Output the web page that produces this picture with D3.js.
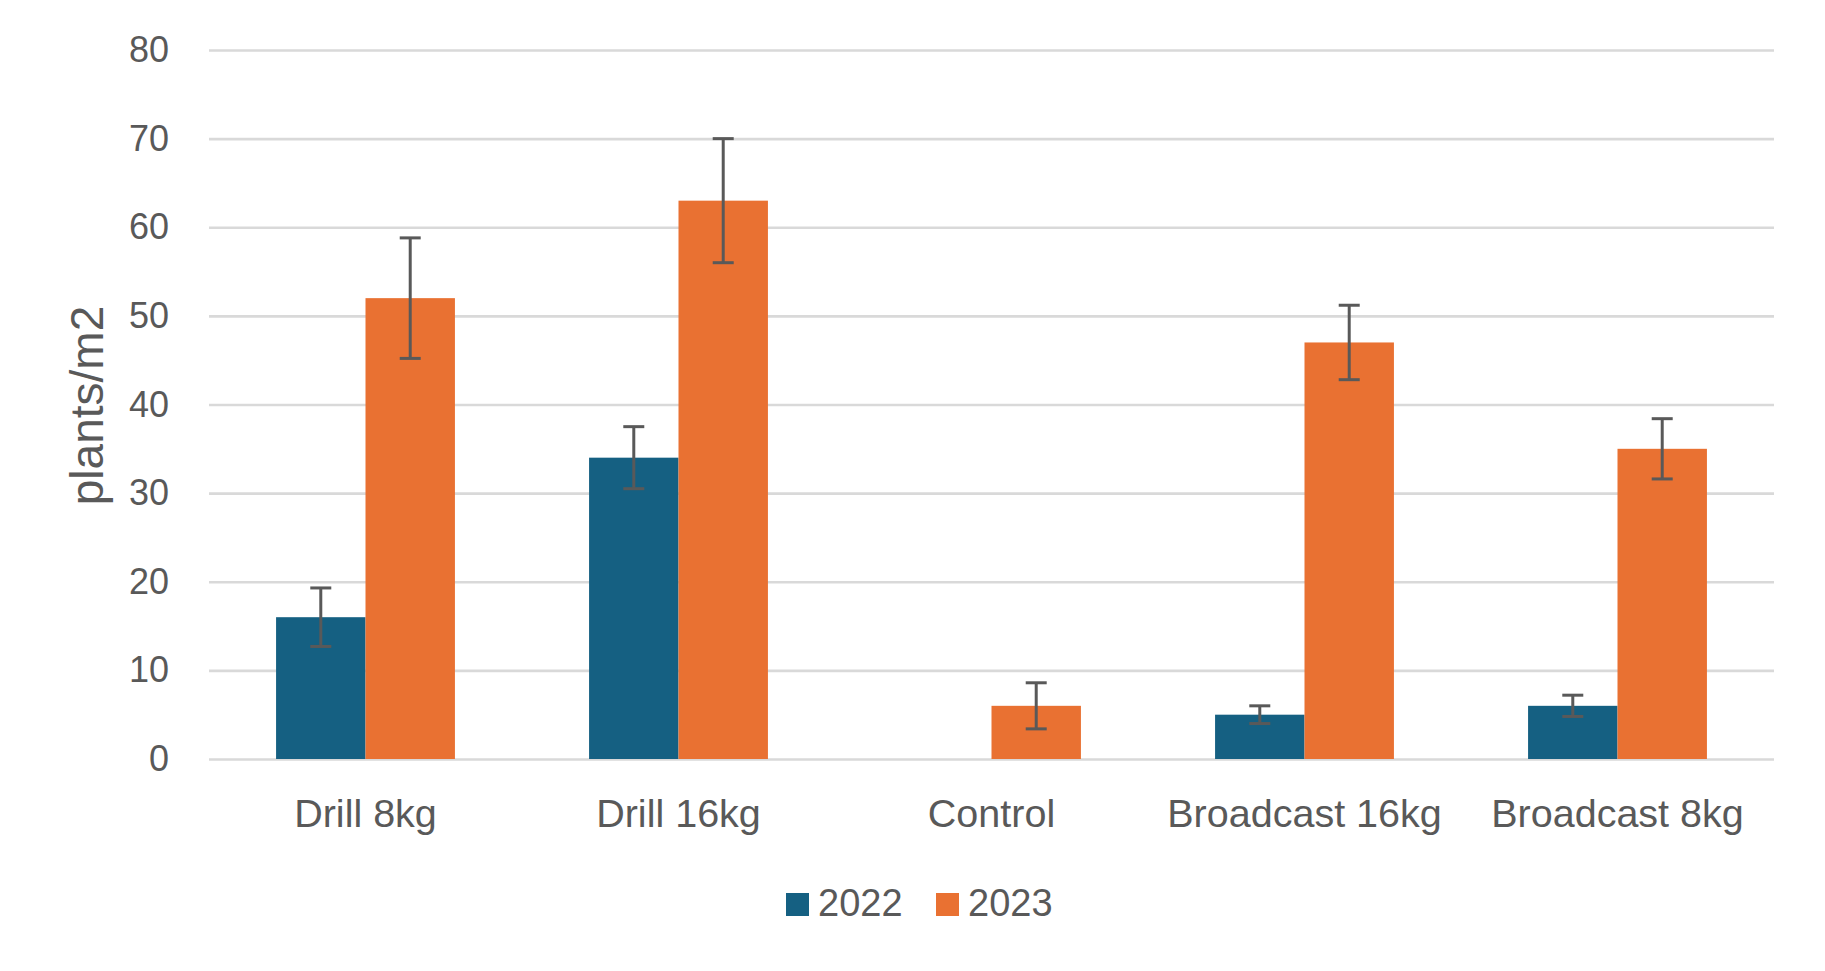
<!DOCTYPE html>
<html>
<head>
<meta charset="utf-8">
<script src="https://cdn.jsdelivr.net/npm/d3@7"></script>
<style>
  html, body { margin: 0; padding: 0; background: #fff; }
  svg { display: block; }
</style>
</head>
<body>
<svg id="chart" width="1825" height="971"></svg>
<script>
// ---- data ----
const categories = ["Drill 8kg", "Drill 16kg", "Control", "Broadcast 16kg", "Broadcast 8kg"];
const seriesNames = ["2022", "2023"];
const values2022 = [16, 34, 0, 5, 6];
const values2023 = [52, 63, 6, 47, 35];
const errors2022 = [3.3, 3.5, null, 1.0, 1.2];
const errors2023 = [6.8, 7.0, 2.6, 4.2, 3.4];
const yTicks = [0, 10, 20, 30, 40, 50, 60, 70, 80];
const colors = ["#156082", "#E97132"];
const yTitle = "plants/m2";

const series = [
  { name: seriesNames[0], values: values2022, errors: errors2022, color: colors[0] },
  { name: seriesNames[1], values: values2023, errors: errors2023, color: colors[1] }
];

const svg = d3.select("#chart");
const textColor = "#595959";
const plot = { left: 209, right: 1774, top: 50, bottom: 759 };

const y = d3.scaleLinear().domain([0, 80]).range([plot.bottom, plot.top]);
const x0 = d3.scaleBand().domain(categories).range([plot.left, plot.right])
  .paddingInner(3 / 7).paddingOuter(1.5 / 7);
const x1 = d3.scaleBand().domain(seriesNames).range([0, x0.bandwidth()]);

// gridlines
const grid = d3.axisLeft(y).tickValues(yTicks).tickSize(-(plot.right - plot.left)).tickFormat("");
svg.append("g").attr("transform", `translate(${plot.left},0)`).call(grid)
  .call(g => g.select(".domain").remove())
  .call(g => g.selectAll("line").attr("stroke", "#D9D9D9").attr("stroke-width", 2.6));

// y tick labels
const yAxis = d3.axisLeft(y).tickValues(yTicks).tickSize(0).tickPadding(40);
svg.append("g").attr("transform", `translate(${plot.left},0)`).call(yAxis)
  .call(g => g.select(".domain").remove())
  .call(g => g.selectAll("text").attr("fill", textColor)
    .style("font-family", "'Liberation Sans', Arial, sans-serif").style("font-size", "36px"));

// bars
const groups = svg.append("g").selectAll("g").data(series).join("g")
  .attr("fill", d => d.color);
groups.selectAll("rect")
  .data(s => categories.map((c, i) => ({ cat: c, name: s.name, v: s.values[i], e: s.errors[i] })))
  .join("rect")
  .attr("x", d => x0(d.cat) + x1(d.name))
  .attr("y", d => y(d.v))
  .attr("width", x1.bandwidth())
  .attr("height", d => y(0) - y(d.v));

// error bars
const errData = [];
series.forEach(s => categories.forEach((c, i) => {
  if (s.errors[i] != null && s.values[i] > 0) errData.push({ cat: c, name: s.name, v: s.values[i], e: s.errors[i] });
}));
const eg = svg.append("g").attr("stroke", "#595959").attr("stroke-width", 3).attr("fill", "none");
const capHalf = 10.5;
errData.forEach(d => {
  const cx = x0(d.cat) + x1(d.name) + x1.bandwidth() / 2;
  const yt = y(d.v + d.e), yb = y(d.v - d.e);
  eg.append("line").attr("x1", cx).attr("x2", cx).attr("y1", yt).attr("y2", yb);
  eg.append("line").attr("x1", cx - capHalf).attr("x2", cx + capHalf).attr("y1", yt).attr("y2", yt);
  eg.append("line").attr("x1", cx - capHalf).attr("x2", cx + capHalf).attr("y1", yb).attr("y2", yb);
});

// x category labels
const xAxis = d3.axisBottom(x0).tickSize(0).tickPadding(40);
svg.append("g").attr("transform", `translate(0,${plot.bottom})`).call(xAxis)
  .call(g => g.select(".domain").remove())
  .call(g => g.selectAll("text").attr("fill", textColor)
    .style("font-family", "'Liberation Sans', Arial, sans-serif").style("font-size", "39.5px"));

// y axis title
svg.append("text")
  .attr("transform", `translate(103,${(plot.top + plot.bottom) / 2 + 1}) rotate(-90)`)
  .attr("text-anchor", "middle")
  .attr("fill", textColor)
  .style("font-family", "'Liberation Sans', Arial, sans-serif")
  .style("font-size", "46px")
  .text(yTitle);

// legend
const legendX = [786, 936];
const legend = svg.append("g").selectAll("g").data(series).join("g")
  .attr("transform", (d, i) => `translate(${legendX[i]},893)`);
legend.append("rect").attr("width", 23).attr("height", 23).attr("fill", d => d.color);
legend.append("text").attr("x", 32).attr("y", 23)
  .attr("fill", textColor)
  .style("font-family", "'Liberation Sans', Arial, sans-serif")
  .style("font-size", "38px")
  .text(d => d.name);
</script>
</body>
</html>
